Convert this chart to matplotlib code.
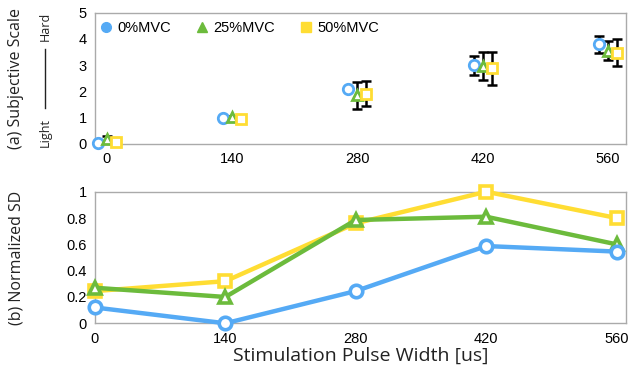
import numpy as np
import matplotlib
matplotlib.use("Agg")
from matplotlib import pyplot as plt
from matplotlib.lines import Line2D

# pulse widths [us]
pulse = [0, 140, 280, 420, 560]
series = ["0%MVC", "25%MVC", "50%MVC"]

# (a) subjective scale, mean and error
subj_0 = [0.03, 1.0, 2.08, 3.0, 3.79]
subj_0_err = [0.0, 0.0, 0.05, 0.36, 0.34]
subj_25 = [0.2, 1.03, 1.85, 2.97, 3.56]
subj_25_err = [0.1, 0.05, 0.5, 0.52, 0.37]
subj_50 = [0.08, 0.95, 1.92, 2.88, 3.48]
subj_50_err = [0.03, 0.12, 0.48, 0.63, 0.5]

# (b) normalized SD
sd_0 = [0.12, 0.0, 0.245, 0.587, 0.545]
sd_25 = [0.27, 0.2, 0.785, 0.81, 0.6]
sd_50 = [0.245, 0.32, 0.76, 1.0, 0.8]

colores = ["#55AAF5", "#6CBB3C", "#FFDD33"]
marcas = ["o", "^", "s"]
offsets = [-10, 0, 10]

plt.rcParams["font.family"] = ["Liberation Sans", "DejaVu Sans"]
fig = plt.figure(figsize=(6.29, 3.74), dpi=100)
ax1 = fig.add_axes([0.151, 0.615, 0.844, 0.351])
ax2 = fig.add_axes([0.151, 0.1356, 0.844, 0.3518])

subj = [subj_0, subj_25, subj_50]
errs = [subj_0_err, subj_25_err, subj_50_err]
for i in range(3):
    xx = np.array(pulse) + offsets[i]
    ax1.errorbar(xx, subj[i], yerr=errs[i], fmt="none", ecolor="black",
                 elinewidth=1.8, capsize=3.5, capthick=1.8, zorder=2, clip_on=False)
    ax1.plot(xx, subj[i], linestyle="none", marker=marcas[i], ms=7.5,
             mfc="white", mec=colores[i], mew=2, zorder=3, clip_on=False)
    # filled markers for the legend
    ax1.plot([], [], linestyle="none", marker=marcas[i], ms=7,
             color=colores[i], label=series[i])

ax1.set_xlim(-13, 580)
ax1.set_ylim(0, 5)
ax1.set_xticks(pulse)
ax1.set_yticks([0, 1, 2, 3, 4, 5])
ax1.legend(loc="upper left", ncol=3, frameon=False, fontsize=10.5,
           handletextpad=0.2, columnspacing=1.5, borderaxespad=0.2,
           bbox_to_anchor=(-0.012, 1.0), handlelength=1.2)

sds = [sd_0, sd_25, sd_50]
for i in range(3):
    ax2.plot(pulse, sds[i], color=colores[i], lw=3.2, marker=marcas[i], ms=9,
             mfc="white", mec=colores[i], mew=2.6, clip_on=False, zorder=3 - i * 0.1)

ax2.set_xlim(0, 570)
ax2.set_ylim(0, 1)
ax2.set_xticks(pulse)
ax2.set_yticks([0, 0.2, 0.4, 0.6, 0.8, 1])
ax2.set_yticklabels(["0", "0.2", "0.4", "0.6", "0.8", "1"])

for ax in (ax1, ax2):
    for s in ax.spines.values():
        s.set_color("#AAAAAA")
        s.set_linewidth(1.0)
    ax.tick_params(length=0, labelsize=10.5, pad=6)

fig.text(0.026, 0.79, "(a) Subjective Scale", rotation=90, ha="center", va="center",
         fontsize=11.5, family="Open Sans", color="#222222")
fig.text(0.026, 0.31, "(b) Normalized SD", rotation=90, ha="center", va="center",
         fontsize=11.5, family="Open Sans", color="#222222")
fig.text(0.072, 0.93, "Hard", rotation=90, ha="center", va="center",
         fontsize=9, family="Open Sans", color="#222222")
fig.text(0.072, 0.647, "Light", rotation=90, ha="center", va="center",
         fontsize=9, family="Open Sans", color="#222222")
fig.add_artist(Line2D([0.072, 0.072], [1 - 108 / 374, 1 - 49 / 374],
                      transform=fig.transFigure, color="#222222", lw=1))
fig.text(0.573, 0.05, "Stimulation Pulse Width [us]", ha="center", va="center",
         fontsize=14, family="Open Sans", color="#222222")

fig.savefig("out.png", dpi=100)
